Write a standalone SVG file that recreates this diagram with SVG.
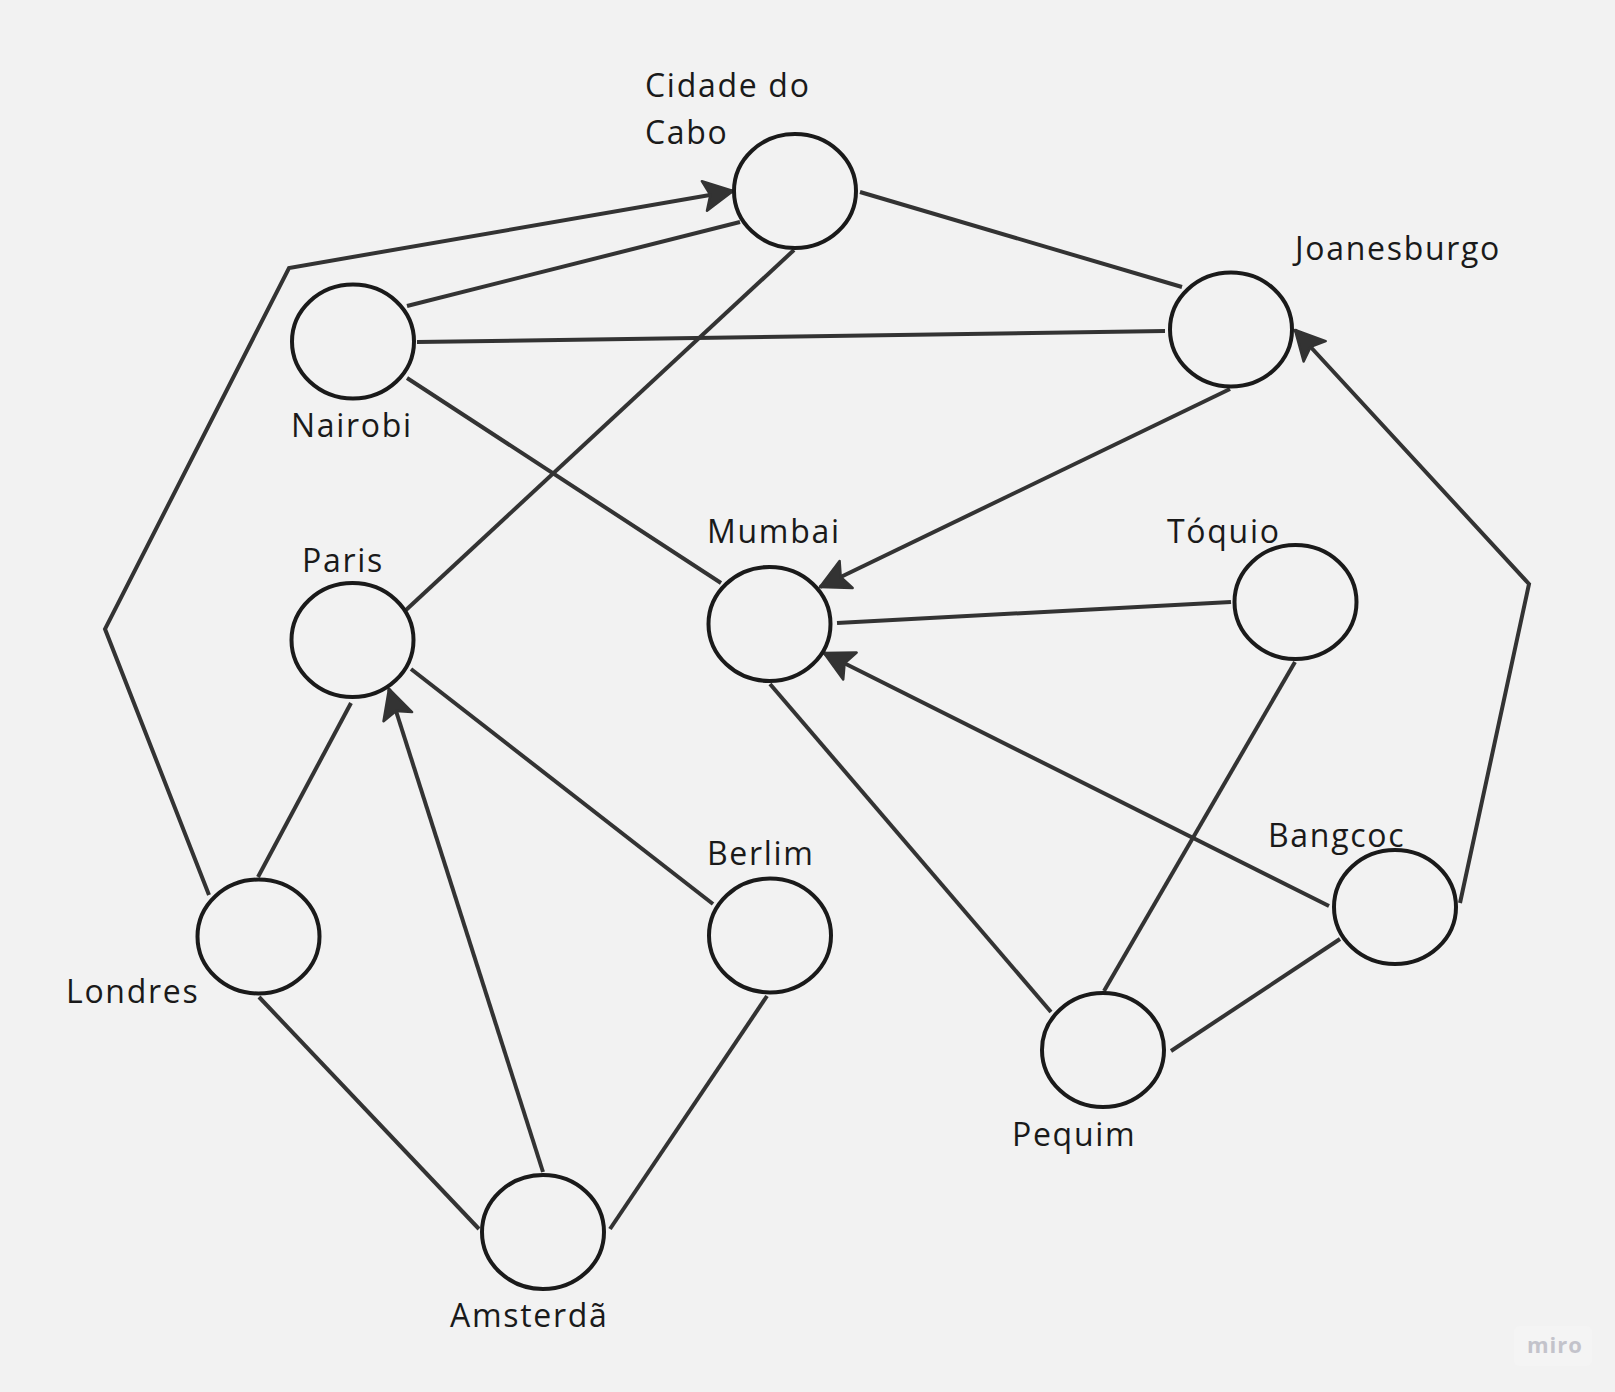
<svg xmlns="http://www.w3.org/2000/svg" width="1615" height="1392" viewBox="0 0 1615 1392">
  <style>
    .node { fill: none; stroke: #1a1a1a; stroke-width: 4; }
    .label { font-family: "Open Sans", "Noto Sans", "Liberation Sans", sans-serif; font-size: 32px; fill: #1a1a1a; letter-spacing: 1.7px; }
    .edge { fill: none; stroke: #333333; stroke-width: 4; stroke-linejoin: miter; }
    .logo { font-family: "Open Sans", "Liberation Sans", sans-serif; font-size: 22px; font-weight: bold; fill: #c3c3cb; letter-spacing: 1px; }
  </style>
  <defs>
    <marker id="arrow" markerUnits="userSpaceOnUse" viewBox="-34 -18 36 36" refX="0" refY="0" markerWidth="36" markerHeight="36" orient="auto">
      <path d="M0,0 L-29,-15 L-23,0 L-29,15 Z" fill="#333333" stroke="#333333" stroke-width="2.5" stroke-linejoin="round"/>
    </marker>
  </defs>

  <rect x="0" y="0" width="1615" height="1392" fill="#f2f2f2"/>

  <!-- connectors -->
  <g id="connectors">
    <line class="edge" x1="860" y1="192" x2="1182" y2="287"/>
    <line class="edge" x1="407" y1="306" x2="740" y2="222"/>
    <line class="edge" x1="417" y1="342" x2="1165" y2="331"/>
    <line class="edge" x1="407" y1="378" x2="721" y2="583"/>
    <line class="edge" x1="794" y1="250" x2="406" y2="610"/>
    <line class="edge" x1="1230" y1="389" x2="820" y2="587" marker-end="url(#arrow)"/>
    <line class="edge" x1="1231" y1="602" x2="837" y2="623"/>
    <line class="edge" x1="1329" y1="906" x2="824" y2="653" marker-end="url(#arrow)"/>
    <line class="edge" x1="770" y1="684" x2="1051" y2="1012"/>
    <line class="edge" x1="1295" y1="662" x2="1104" y2="991"/>
    <line class="edge" x1="1340" y1="939" x2="1171" y2="1051"/>
    <polyline class="edge" points="1460,903 1529,584 1295,330" marker-end="url(#arrow)"/>
    <line class="edge" x1="351" y1="703" x2="258" y2="877"/>
    <line class="edge" x1="411" y1="669" x2="713" y2="904"/>
    <line class="edge" x1="543" y1="1172" x2="389" y2="689" marker-end="url(#arrow)"/>
    <line class="edge" x1="259" y1="997" x2="479" y2="1229"/>
    <line class="edge" x1="767" y1="996" x2="610" y2="1229"/>
    <polyline class="edge" points="209,895 105,629 289,268 733,191" marker-end="url(#arrow)"/>
  </g>

  <!-- nodes -->
  <g id="cidade-do-cabo">
    <ellipse class="node" cx="795" cy="191" rx="61" ry="57"/>
    <text class="label" x="645" y="97">Cidade do</text>
    <text class="label" x="645" y="144">Cabo</text>
  </g>
  <g id="nairobi">
    <ellipse class="node" cx="353" cy="341.5" rx="61" ry="57"/>
    <text class="label" x="291" y="437">Nairobi</text>
  </g>
  <g id="joanesburgo">
    <ellipse class="node" cx="1231" cy="329.5" rx="61" ry="57"/>
    <text class="label" x="1295" y="260">Joanesburgo</text>
  </g>
  <g id="mumbai">
    <ellipse class="node" cx="769.5" cy="624" rx="61" ry="57"/>
    <text class="label" x="707" y="543">Mumbai</text>
  </g>
  <g id="paris">
    <ellipse class="node" cx="352.5" cy="640" rx="61" ry="57"/>
    <text class="label" x="302" y="572">Paris</text>
  </g>
  <g id="toquio">
    <ellipse class="node" cx="1295.5" cy="602" rx="61" ry="57"/>
    <text class="label" x="1167" y="543">Tóquio</text>
  </g>
  <g id="bangcoc">
    <ellipse class="node" cx="1395" cy="907" rx="61" ry="57"/>
    <text class="label" x="1268" y="847">Bangcoc</text>
  </g>
  <g id="londres">
    <ellipse class="node" cx="258.5" cy="936.5" rx="61" ry="57"/>
    <text class="label" x="66" y="1003">Londres</text>
  </g>
  <g id="berlim">
    <ellipse class="node" cx="770" cy="935.5" rx="61" ry="57"/>
    <text class="label" x="707" y="865">Berlim</text>
  </g>
  <g id="pequim">
    <ellipse class="node" cx="1103" cy="1050" rx="61" ry="57"/>
    <text class="label" x="1012" y="1146">Pequim</text>
  </g>
  <g id="amsterda">
    <ellipse class="node" cx="543" cy="1232" rx="61" ry="57"/>
    <text class="label" x="450" y="1327">Amsterdã</text>
  </g>

  <!-- board watermark -->
  <rect x="1514" y="1326" width="78" height="40" rx="6" fill="#f4f4f4"/>
  <text class="logo" x="1527" y="1353">miro</text>
</svg>
